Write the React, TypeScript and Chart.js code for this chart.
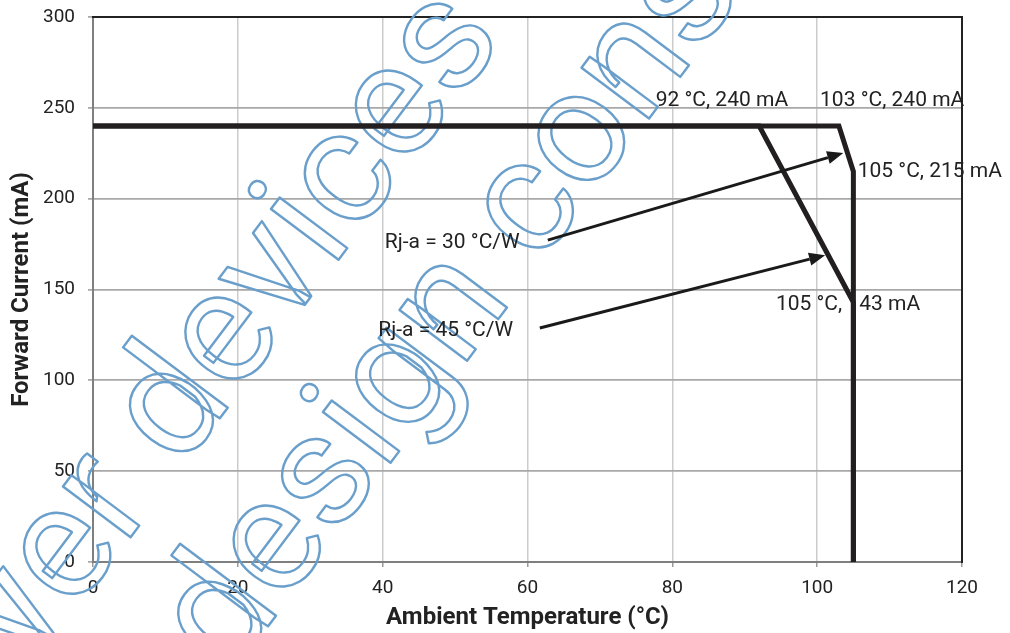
import React, { useEffect, useRef } from "react";
import { Chart, registerables } from "chart.js";

Chart.register(...registerables);

// ---- data ----
const temps30 = [0, 103, 105, 105];
const current30 = [240, 240, 215, 0];
const temps45 = [0, 92, 105, 105];
const current45 = [240, 240, 143, 0];

const xTickValues = [0, 20, 40, 60, 80, 100, 120];
const yTickValues = [0, 50, 100, 150, 200, 250, 300];

const xTitle = "Ambient Temperature (°C)";
const yTitle = "Forward Current (mA)";

const noteTexts = [
  "92 °C, 240 mA",
  "103 °C, 240 mA",
  "105 °C, 215 mA",
  "105 °C, 143 mA",
  "Rj-a = 30 °C/W",
  "Rj-a = 45 °C/W",
];
const noteX = [77.7, 100.4, 105.6, 94.3, 40.3, 39.4];
const noteY = [254, 254, 214.7, 141.5, 175.6, 127.2];

const arrowFromX = [62.8, 61.7];
const arrowFromY = [177.2, 128.8];
const arrowToX = [103.6, 101.1];
const arrowToY = [225.1, 168.9];

const watermarkLines = ["power devices", "design consultant"];
const watermarkAnchorPrefix = ["power dev", "des"];

const FONT = "Roboto, 'Noto Sans', Arial, sans-serif";

const framePlugin = {
  id: "frame",
  beforeDatasetsDraw(chart: any) {
    const { ctx, chartArea } = chart;
    const { left, right, top, bottom } = chartArea;
    ctx.save();
    ctx.strokeStyle = "#222222";
    ctx.lineWidth = 2;
    ctx.beginPath();
    ctx.moveTo(left - 1, top);
    ctx.lineTo(right, top);
    ctx.lineTo(right, bottom + 1);
    ctx.stroke();
    ctx.restore();

    // watermark (outlined text)
    ctx.save();
    ctx.font = `160px ${FONT}`;
    ctx.strokeStyle = "#6a9fcb";
    ctx.lineWidth = 2.4;
    ctx.lineJoin = "round";
    ctx.textBaseline = "alphabetic";
    ctx.textAlign = "left";
    const angle = Math.atan2(-0.8, 0.6);
    const anchors = [
      [343, 254],
      [395, 457],
    ];
    watermarkLines.forEach((txt, i) => {
      const pre = ctx.measureText(watermarkAnchorPrefix[i]).width;
      const iw = ctx.measureText("i").width;
      ctx.save();
      ctx.translate(anchors[i][0], anchors[i][1]);
      ctx.rotate(angle);
      ctx.strokeText(txt, -(pre + iw / 2), 0);
      ctx.restore();
    });
    ctx.restore();
  },
  afterDatasetsDraw(chart: any) {
    const { ctx } = chart;
    const xs = chart.scales.x;
    const ys = chart.scales.y;
    ctx.save();
    ctx.font = `21px ${FONT}`;
    ctx.fillStyle = "#222222";
    ctx.textAlign = "left";
    ctx.textBaseline = "middle";
    noteTexts.forEach((t, i) => {
      ctx.fillText(t, xs.getPixelForValue(noteX[i]), ys.getPixelForValue(noteY[i]));
    });

    ctx.strokeStyle = "#1a1a1a";
    ctx.fillStyle = "#1a1a1a";
    ctx.lineWidth = 3;
    for (let i = 0; i < arrowFromX.length; i++) {
      const x1 = xs.getPixelForValue(arrowFromX[i]);
      const y1 = ys.getPixelForValue(arrowFromY[i]);
      const x2 = xs.getPixelForValue(arrowToX[i]);
      const y2 = ys.getPixelForValue(arrowToY[i]);
      const a = Math.atan2(y2 - y1, x2 - x1);
      const head = 16;
      const hw = 6.5;
      const bx = x2 - head * Math.cos(a);
      const by = y2 - head * Math.sin(a);
      ctx.beginPath();
      ctx.moveTo(x1, y1);
      ctx.lineTo(bx, by);
      ctx.stroke();
      ctx.beginPath();
      ctx.moveTo(x2, y2);
      ctx.lineTo(bx + hw * Math.sin(a), by - hw * Math.cos(a));
      ctx.lineTo(bx - hw * Math.sin(a), by + hw * Math.cos(a));
      ctx.closePath();
      ctx.fill();
    }
    ctx.restore();
  },
};

export default function App() {
  const canvasRef = useRef<HTMLCanvasElement | null>(null);

  useEffect(() => {
    const canvas = canvasRef.current;
    if (!canvas) return;
    const chart = new Chart(canvas, {
      type: "line",
      data: {
        datasets: [
          {
            label: "Rj-a = 30 °C/W",
            data: temps30.map((x, i) => ({ x, y: current30[i] })),
            borderColor: "#231f20",
            borderWidth: 5,
            pointRadius: 0,
            borderJoinStyle: "miter",
            borderCapStyle: "butt",
            tension: 0,
            fill: false,
          },
          {
            label: "Rj-a = 45 °C/W",
            data: temps45.map((x, i) => ({ x, y: current45[i] })),
            borderColor: "#231f20",
            borderWidth: 5,
            pointRadius: 0,
            borderJoinStyle: "miter",
            borderCapStyle: "butt",
            tension: 0,
            fill: false,
          },
        ],
      },
      options: {
        animation: false,
        responsive: false,
        devicePixelRatio: 1,
        layout: { padding: { left: 0, top: 17, right: 48, bottom: 0 } },
        plugins: {
          legend: { display: false },
          tooltip: { enabled: false },
          title: { display: false },
        },
        scales: {
          x: {
            type: "linear",
            min: 0,
            max: 120,
            afterBuildTicks: (s: any) => {
              s.ticks = xTickValues.map((v) => ({ value: v }));
            },
            afterFit: (s: any) => {
              s.height = 71;
              s.paddingLeft = 0;
              s.paddingRight = 0;
            },
            grid: {
              color: "#cccccc",
              lineWidth: 1.5,
              tickColor: "#9a9a9a",
              tickLength: 5,
              tickWidth: 1.5,
            },
            border: { color: "#7f7f7f", width: 2 },
            ticks: {
              color: "#222222",
              font: { family: FONT, size: 19 },
              padding: 10,
              maxRotation: 0,
            },
            title: {
              display: true,
              text: xTitle,
              color: "#222222",
              font: { family: FONT, size: 24, weight: "bold" },
              padding: { top: 0, bottom: 0.6 },
            },
          },
          y: {
            type: "linear",
            min: 0,
            max: 300,
            afterBuildTicks: (s: any) => {
              s.ticks = yTickValues.map((v) => ({ value: v }));
            },
            afterFit: (s: any) => {
              s.width = 93;
              s.paddingTop = 0;
              s.paddingBottom = 0;
            },
            grid: {
              color: "#a8a8a8",
              lineWidth: 1.8,
              tickColor: "#9a9a9a",
              tickLength: 5,
              tickWidth: 1.5,
            },
            border: { color: "#7f7f7f", width: 2 },
            ticks: {
              color: "#222222",
              font: { family: FONT, size: 19 },
              padding: 13,
            },
            title: {
              display: true,
              text: yTitle,
              color: "#222222",
              font: { family: FONT, size: 24, weight: "bold" },
              padding: { top: 7.6, bottom: 0 },
            },
          },
        },
      },
      plugins: [framePlugin],
    });
    return () => chart.destroy();
  }, []);

  return (
    <div
      style={{
        position: "fixed",
        left: 0,
        top: 0,
        width: 1010,
        height: 633,
        background: "#ffffff",
      }}
    >
      <canvas ref={canvasRef} width={1010} height={633} />
    </div>
  );
}
